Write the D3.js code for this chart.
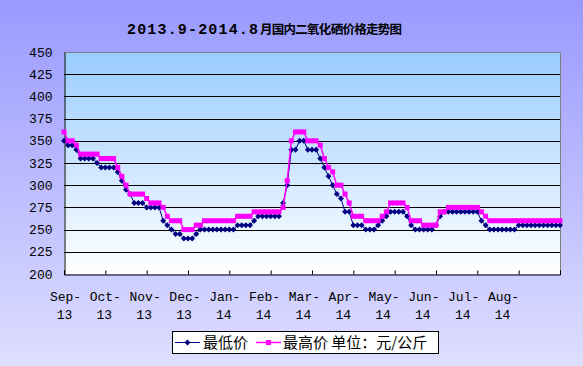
<!DOCTYPE html>
<html><head><meta charset="utf-8">
<script src="https://cdn.jsdelivr.net/npm/d3@7"></script>
<style>html,body{margin:0;padding:0;background:#fff;}svg{display:block;}</style>
</head><body>
<script>
const titleAscii = "2013.9-2014.8";
const titleCjk = "月国内二氧化硒价格走势图";
const monthLabels = ["Sep-","Oct-","Nov-","Dec-","Jan-","Feb-","Mar-","Apr-","May-","Jun-","Jul-","Aug-"];
const yearLabels = ["13","13","13","13","14","14","14","14","14","14","14","14"];
const yTicks = [200,225,250,275,300,325,350,375,400,425,450];
const seriesNames = ["最低价","最高价 单位：元/公斤"];
const minPrice = [350,345,345,340,330,330,330,330,325,320,
 320,320,320,315,305,295,290,280,280,280,
 275,275,275,275,260,255,250,245,245,240,
 240,240,245,250,250,250,250,250,250,250,
 250,250,255,255,255,255,260,265,265,265,
 265,265,265,280,300,340,340,350,350,340,
 340,340,330,320,310,300,290,285,270,270,
 255,255,255,250,250,250,255,260,265,270,
 270,270,270,265,255,250,250,250,250,250,
 255,265,270,270,270,270,270,270,270,270,
 270,260,255,250,250,250,250,250,250,250,
 255,255,255,255,255,255,255,255,255,255,255];
const maxPrice = [360,350,350,345,335,335,335,335,335,330,
 330,330,330,320,310,300,290,290,290,290,
 285,280,280,280,275,265,260,260,260,250,
 250,250,255,255,260,260,260,260,260,260,
 260,260,265,265,265,265,270,270,270,270,
 270,270,270,275,305,350,360,360,360,350,
 350,350,345,330,320,315,300,300,290,280,
 265,265,265,260,260,260,260,265,270,280,
 280,280,280,275,260,260,260,255,255,255,
 255,270,270,275,275,275,275,275,275,275,
 275,270,265,260,260,260,260,260,260,260,
 260,260,260,260,260,260,260,260,260,260,260];

const W = 583, H = 366;
const L = 64, R = 560, T = 52, B = 274;
const svg = d3.select("body").append("svg").attr("width", W).attr("height", H);
const defs = svg.append("defs");
const bg = defs.append("linearGradient").attr("id","bg").attr("x1",0).attr("y1",0).attr("x2",0).attr("y2",1);
bg.append("stop").attr("offset","0%").attr("stop-color","#9999ff");
bg.append("stop").attr("offset","100%").attr("stop-color","#dedeff");
const pg = defs.append("linearGradient").attr("id","pg").attr("x1",0).attr("y1",0).attr("x2",0).attr("y2",1);
pg.append("stop").attr("offset","0%").attr("stop-color","#99ccff");
pg.append("stop").attr("offset","100%").attr("stop-color","#ffffff");

svg.append("rect").attr("width",W).attr("height",H).attr("fill","url(#bg)");

const n = minPrice.length;
const x = d3.scaleLinear().domain([0, n-1]).range([L, R]);
const y = d3.scaleLinear().domain([200, 450]).range([B, T]);
const labelX = d3.scaleLinear().domain([0, monthLabels.length-1]).range([64.5, 502.5]);

svg.append("rect").attr("x",L).attr("y",T).attr("width",R-L).attr("height",B-T).attr("fill","url(#pg)");

// gridlines
svg.append("g").selectAll("line").data(yTicks.filter(v=>v>200 && v<450)).join("line")
  .attr("x1",L).attr("x2",R).attr("y1",d=>Math.round(y(d))+0.5).attr("y2",d=>Math.round(y(d))+0.5)
  .attr("stroke","#000").attr("stroke-width",1);
// plot border top/right
svg.append("path").attr("d",`M${L},${T+0.5}H${R+0.5}V${B}`).attr("fill","none").attr("stroke","#808080");

// y axis
const yAxis = svg.append("g").attr("transform",`translate(${L+0.5},0)`)
  .call(d3.axisLeft(y).tickValues(yTicks).tickSize(0).tickPadding(12));
yAxis.select(".domain").attr("stroke","#000");
yAxis.selectAll("text").attr("font-family","'Liberation Mono', monospace").attr("font-size","13px").attr("fill","#000");

// x axis
const tickIdx = d3.range(0, n, 10);
const xAxis = svg.append("g").attr("transform",`translate(0,${B+0.5})`)
  .call(d3.axisBottom(x).tickValues(tickIdx).tickSize(-4).tickFormat(""));
xAxis.selectAll("path,line").attr("stroke","#000");
const xl = svg.append("g").attr("font-family","'Liberation Mono', monospace").attr("font-size","13px").attr("fill","#000").attr("text-anchor","middle");
xl.selectAll("text.m").data(monthLabels).join("text").attr("class","m")
  .attr("x",(d,i)=>labelX(i)+1).attr("y",301).text(d=>d);
xl.selectAll("text.yr").data(yearLabels).join("text").attr("class","yr")
  .attr("x",(d,i)=>labelX(i)).attr("y",319).text(d=>d);

// series
const line = d3.line().x((d,i)=>x(i)).y(d=>y(d));
svg.append("path").datum(minPrice).attr("d",line).attr("fill","none").attr("stroke","#000080").attr("stroke-width",1);
const diamond = "M0,-3L3,0L0,3L-3,0Z";
svg.append("g").selectAll("path").data(minPrice).join("path")
  .attr("transform",(d,i)=>`translate(${x(i)},${y(d)})`).attr("d",diamond).attr("fill","#000080");
svg.append("path").datum(maxPrice).attr("d",line).attr("fill","none").attr("stroke","#ff00ff").attr("stroke-width",1.5);
svg.append("g").selectAll("rect").data(maxPrice).join("rect")
  .attr("x",(d,i)=>x(i)-2.5).attr("y",d=>y(d)-2.5).attr("width",5).attr("height",5).attr("fill","#ff00ff");

// title
svg.append("text").attr("x",127).attr("y",34).attr("font-family","'Liberation Mono', monospace").attr("font-weight","bold")
  .attr("font-size","15px").attr("textLength",131).attr("lengthAdjust","spacing").attr("fill","#000").text(titleAscii);
svg.append("text").attr("x",260).attr("y",34).attr("font-family","'Noto Sans CJK SC', sans-serif").attr("font-weight","bold")
  .attr("font-size","12.5px").attr("textLength",142).attr("lengthAdjust","spacing").attr("fill","#000").text(titleCjk);

// legend
const lg = svg.append("g");
lg.append("rect").attr("x",172.5).attr("y",331.5).attr("width",266).attr("height",22).attr("fill","#fff").attr("stroke","#000");
const ly = 342.5;
lg.append("line").attr("x1",175).attr("x2",200).attr("y1",ly).attr("y2",ly).attr("stroke","#000080").attr("stroke-width",1);
lg.append("path").attr("transform",`translate(187.5,${ly})`).attr("d",diamond).attr("fill","#000080");
lg.append("line").attr("x1",256).attr("x2",281).attr("y1",ly).attr("y2",ly).attr("stroke","#ff00ff").attr("stroke-width",1.5);
lg.append("rect").attr("x",266).attr("y",ly-2.5).attr("width",5).attr("height",5).attr("fill","#ff00ff");
lg.append("text").attr("x",203).attr("y",348).attr("font-family","'Noto Sans CJK SC', sans-serif").attr("font-size","15px").attr("fill","#000").text(seriesNames[0]);
lg.append("text").attr("x",283).attr("y",348).attr("font-family","'Noto Sans CJK SC', sans-serif").attr("font-size","15px").attr("fill","#000").text(seriesNames[1]);
</script>
</body></html>
